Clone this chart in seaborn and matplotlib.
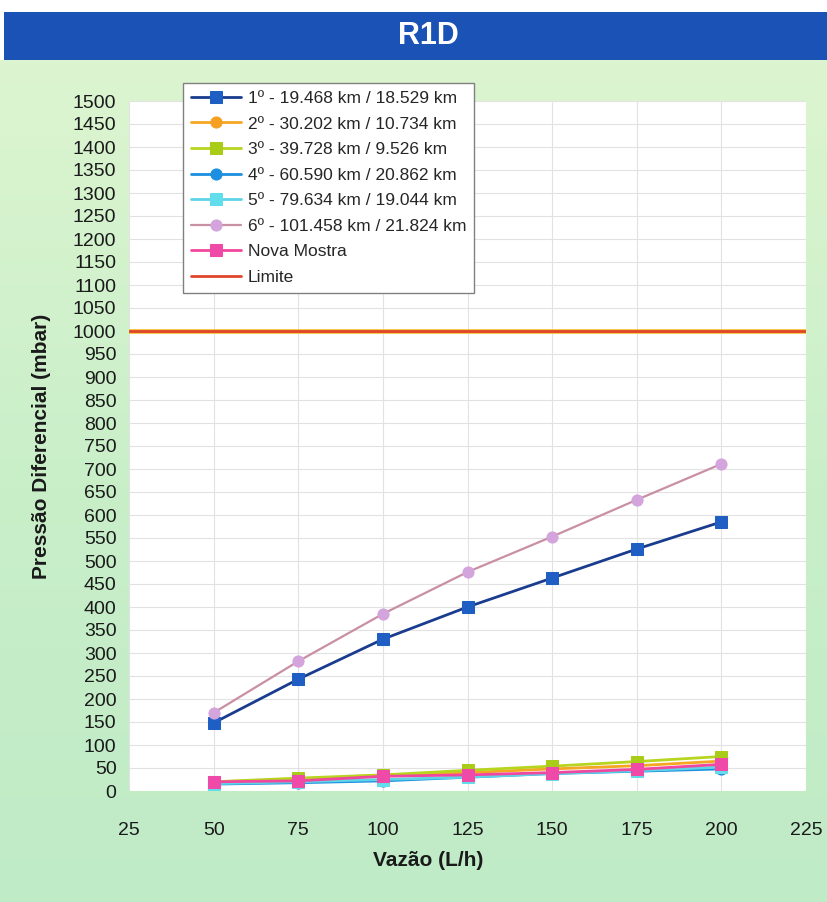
import numpy as np
import pandas as pd
import matplotlib
matplotlib.use("Agg")
import matplotlib.pyplot as plt
from matplotlib.patches import Rectangle
import seaborn as sns

# Flow rates (L/h)
vazao = [50, 75, 100, 125, 150, 175, 200]

# Differential pressure (mbar) per sample
s1 = [148, 243, 330, 400, 463, 526, 585]
s2 = [20, 25, 35, 40, 48, 55, 65]
s3 = [20, 28, 35, 45, 54, 64, 75]
s4 = [15, 18, 22, 30, 38, 43, 48]
s5 = [16, 20, 25, 30, 38, 44, 52]
s6 = [170, 282, 385, 476, 553, 633, 711]
nova = [20, 22, 32, 35, 40, 47, 58]
limite = 1000

labels = [
    "1º - 19.468 km / 18.529 km",
    "2º - 30.202 km / 10.734 km",
    "3º - 39.728 km / 9.526 km",
    "4º - 60.590 km / 20.862 km",
    "5º - 79.634 km / 19.044 km",
    "6º - 101.458 km / 21.824 km",
    "Nova Mostra",
]
series = [s1, s2, s3, s4, s5, s6, nova]

# line colour, marker face colour, marker, line width, marker size
styles = [
    ("#1A3C8F", "#1F5FC4", "s", 2.0, 8),
    ("#F5A623", "#F5A020", "o", 2.0, 8),
    ("#B7D51E", "#A8CC18", "s", 2.0, 8),
    ("#1C8FE0", "#1C8FE0", "o", 2.0, 8),
    ("#5ED4E6", "#62DDEB", "s", 2.0, 8),
    ("#C98FA3", "#D4A4DC", "o", 1.6, 8),
    ("#F0489E", "#F04AA8", "s", 2.0, 8),
]

sns.set_theme(style="whitegrid")
plt.rcParams["font.family"] = ["Liberation Sans", "DejaVu Sans"]

W, H = 827, 902
fig = plt.figure(figsize=(W / 100, H / 100), dpi=100)
fig.patch.set_facecolor("white")

# light green gradient background below the header bar
bg = fig.add_axes([0, 0, 1, (H - 60) / H])
grad = np.linspace(0, 1, 256).reshape(-1, 1)
cmap = matplotlib.colors.LinearSegmentedColormap.from_list(
    "bg", ["#DCF5D0", "#C9EFC9", "#BFEBC6"])
bg.imshow(grad, aspect="auto", cmap=cmap, extent=[0, 1, 0, 1], origin="upper")
bg.set_axis_off()

# header bar
fig.patches.append(Rectangle((4 / W, (H - 60) / H), 1 - 4 / W, 48 / H,
                             transform=fig.transFigure, facecolor="#1A52B5",
                             edgecolor="none", zorder=0))
fig.text(428 / W, (H - 36) / H, "R1D", color="white", fontsize=22,
         fontweight="bold", ha="center", va="center")

ax = fig.add_axes([129 / W, (H - 791) / H, (806 - 129) / W, 690 / H])
ax.set_facecolor("white")

for vals, lab, (lc, mc, mk, lw, ms) in zip(series, labels, styles):
    df = pd.DataFrame({"Vazão": vazao, "Pressão": vals})
    sns.lineplot(data=df, x="Vazão", y="Pressão", ax=ax, color=lc, linewidth=lw,
                 marker=mk, markersize=ms, markerfacecolor=mc,
                 markeredgecolor=mc, label=lab, zorder=3)

lim_df = pd.DataFrame({"Vazão": [25, 225], "Pressão": [limite, limite]})
sns.lineplot(data=lim_df, x="Vazão", y="Pressão", ax=ax, color="#F2C230",
             linewidth=3.4, zorder=2, legend=False)
sns.lineplot(data=lim_df, x="Vazão", y="Pressão", ax=ax, color="#E0452A",
             linewidth=2.0, label="Limite", zorder=2)

ax.set_xlim(25, 225)
ax.set_ylim(0, 1500)
ax.set_xticks(np.arange(25, 226, 25))
ax.set_yticks(np.arange(0, 1501, 50))
ax.grid(True, color="#E2E2E2", linewidth=0.8)
for sp in ax.spines.values():
    sp.set_visible(False)
ax.tick_params(axis="both", length=0, labelsize=14, colors="#1A1A1A")
ax.tick_params(axis="x", pad=22)
ax.tick_params(axis="y", pad=9)

ax.set_xlabel("Vazão (L/h)", fontsize=15, fontweight="bold", color="#1A1A1A")
ax.set_ylabel("Pressão Diferencial (mbar)", fontsize=15, fontweight="bold",
              color="#1A1A1A")
ax.xaxis.set_label_coords((428 - 129) / 677, -(860 - 791) / 690)
ax.yaxis.set_label_coords((42 - 129) / 677, 0.5)
ax.xaxis.label.set_va("center")
ax.yaxis.label.set_va("center")

h, l = ax.get_legend_handles_labels()
leg = ax.legend(h, l, loc="upper left",
                bbox_to_anchor=((183 - 129) / 677, (791 - 83) / 690),
                borderaxespad=0, fontsize=12.5, frameon=True, fancybox=False,
                framealpha=1, edgecolor="#808080", handlelength=2.9,
                labelspacing=0.6, borderpad=0.45, handletextpad=0.4)
leg.get_frame().set_linewidth(1.0)

fig.savefig("out.png", dpi=100)
